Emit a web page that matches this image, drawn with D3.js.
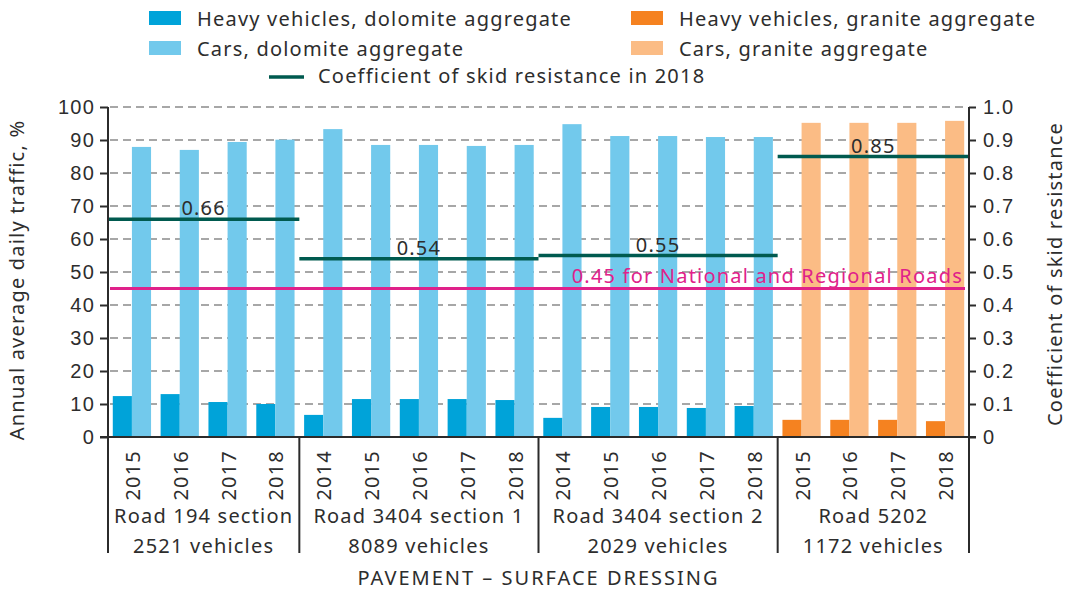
<!DOCTYPE html>
<html>
<head>
<meta charset="utf-8">
<script src="https://cdn.jsdelivr.net/npm/d3@7"></script>
<style>
  body { margin: 0; background: #fff; }
  svg { font-family: 'Noto Sans', sans-serif; letter-spacing: 1.2px; }
  text { fill: #2d2d2d; }
</style>
</head>
<body>
<svg id="chart" width="1069" height="592"></svg>
<script>
// Road sections and their yearly traffic split
const groups = ['Road 194 section', 'Road 3404 section 1', 'Road 3404 section 2', 'Road 5202']
const vehicles = ['2521 vehicles', '8089 vehicles', '2029 vehicles', '1172 vehicles']
const groupYears = [
  ['2015', '2016', '2017', '2018'],
  ['2014', '2015', '2016', '2017', '2018'],
  ['2014', '2015', '2016', '2017', '2018'],
  ['2015', '2016', '2017', '2018']
]
const aggregate = ['dolomite', 'dolomite', 'dolomite', 'granite']
const heavyShare = [12.4, 13.0, 10.6, 10.0, 6.7, 11.5, 11.5, 11.5, 11.2, 5.8, 9.1, 9.1, 8.8, 9.4, 5.2, 5.2, 5.2, 4.8]
const carShare = [87.9, 87.0, 89.4, 90.1, 93.3, 88.5, 88.5, 88.2, 88.5, 94.8, 91.2, 91.2, 90.9, 90.9, 95.2, 95.2, 95.2, 95.8]
const skid2018 = [0.66, 0.54, 0.55, 0.85]
const threshold = 0.45
const leftTicks = [0, 10, 20, 30, 40, 50, 60, 70, 80, 90, 100]
const rightTicks = [0, 0.1, 0.2, 0.3, 0.4, 0.5, 0.6, 0.7, 0.8, 0.9, 1.0]

const colors = {
  heavy: { dolomite: '#00a3d9', granite: '#f58220' },
  cars: { dolomite: '#72c9ec', granite: '#fbbc85' },
  skid: '#005a4f',
  limit: '#e0218a',
  grid: '#8a8a8a',
  axis: '#2b2b2b'
}
const fs = 20

// Flatten into one row per bar pair
const rows = []
groupYears.forEach((ys, g) => {
  ys.forEach(y => rows.push({ key: g + '-' + y, year: y, group: g, agg: aggregate[g] }))
})
rows.forEach((r, i) => { r.heavy = heavyShare[i]; r.cars = carShare[i] })

const svg = d3.select('#chart')
const margin = { top: 107, right: 100, bottom: 155, left: 108 }
const W = 1069, H = 592
const x0 = margin.left, x1 = W - margin.right
const yBottom = H - margin.bottom

const x = d3.scaleBand().domain(rows.map(d => d.key)).range([x0, x1]).padding(0)
const y = d3.scaleLinear().domain([0, 100]).range([yBottom, margin.top])
const y2 = d3.scaleLinear().domain([0, 1]).range([yBottom, margin.top])
const bw = x.bandwidth()

// Dashed grid
svg.append('g')
  .selectAll('line')
  .data(leftTicks.filter(t => t > 0))
  .join('line')
  .attr('x1', x0 + 2).attr('x2', x1 - 1)
  .attr('y1', d => y(d)).attr('y2', d => y(d))
  .attr('stroke', colors.grid)
  .attr('stroke-width', 1.5)
  .attr('stroke-dasharray', '8,5')

// Bars
const bars = svg.append('g')
bars.selectAll('rect.heavy')
  .data(rows)
  .join('rect')
  .attr('class', 'heavy')
  .attr('x', d => x(d.key) + bw * 0.1)
  .attr('width', bw * 0.4)
  .attr('y', d => y(d.heavy))
  .attr('height', d => y(0) - y(d.heavy))
  .attr('fill', d => colors.heavy[d.agg])
bars.selectAll('rect.cars')
  .data(rows)
  .join('rect')
  .attr('class', 'cars')
  .attr('x', d => x(d.key) + bw * 0.5)
  .attr('width', bw * 0.4)
  .attr('y', d => y(d.cars))
  .attr('height', d => y(0) - y(d.cars))
  .attr('fill', d => colors.cars[d.agg])

// Group extents
const groupSpan = groups.map((name, g) => {
  const keys = rows.filter(r => r.group === g).map(r => r.key)
  return { name, g, start: x(keys[0]), end: x(keys[keys.length - 1]) + bw }
})

// Threshold line
svg.append('line')
  .attr('x1', x0 + 2).attr('x2', x1 - 4)
  .attr('y1', y2(threshold)).attr('y2', y2(threshold))
  .attr('stroke', colors.limit)
  .attr('stroke-width', 3)
svg.append('text')
  .attr('x', x1 - 6)
  .attr('y', y2(threshold) - 6)
  .attr('text-anchor', 'end')
  .attr('font-size', fs)
  .style('fill', colors.limit)
  .text(threshold.toFixed(2) + ' for National and Regional Roads')

// Skid resistance per section
svg.append('g')
  .selectAll('line')
  .data(groupSpan)
  .join('line')
  .attr('x1', d => d.start).attr('x2', d => d.end)
  .attr('y1', d => y2(skid2018[d.g])).attr('y2', d => y2(skid2018[d.g]))
  .attr('stroke', colors.skid)
  .attr('stroke-width', 3.5)
svg.append('g')
  .selectAll('text')
  .data(groupSpan)
  .join('text')
  .attr('x', d => (d.start + d.end) / 2)
  .attr('y', d => y2(skid2018[d.g]) - 4)
  .attr('text-anchor', 'middle')
  .attr('font-size', fs)
  .text(d => skid2018[d.g].toFixed(2))

// Axes
const leftAxis = svg.append('g')
  .attr('transform', `translate(${x0},0)`)
  .call(d3.axisLeft(y).tickValues(leftTicks).tickSize(8).tickPadding(5))
const rightAxis = svg.append('g')
  .attr('transform', `translate(${x1},0)`)
  .call(d3.axisRight(y2).tickValues(rightTicks).tickSize(7).tickPadding(7)
    .tickFormat(d => d === 0 ? '0' : d3.format('.1f')(d)))
;[leftAxis, rightAxis].forEach(a => {
  a.select('.domain').remove()
  a.selectAll('line').attr('stroke', colors.axis).attr('stroke-width', 2)
  a.selectAll('text').attr('font-size', fs).style('fill', '#2d2d2d').attr('font-family', null)
})

// Axis lines and section separators
svg.append('line')
  .attr('x1', x0 - 8).attr('x2', x1 + 7)
  .attr('y1', yBottom).attr('y2', yBottom)
  .attr('stroke', colors.axis).attr('stroke-width', 2)
svg.append('line')
  .attr('x1', x0).attr('x2', x0)
  .attr('y1', margin.top).attr('y2', yBottom)
  .attr('stroke', colors.axis).attr('stroke-width', 2)
svg.append('line')
  .attr('x1', x1).attr('x2', x1)
  .attr('y1', margin.top).attr('y2', yBottom)
  .attr('stroke', colors.axis).attr('stroke-width', 2)
const seps = [groupSpan[0].start].concat(groupSpan.map(d => d.end))
svg.append('g')
  .selectAll('line')
  .data(seps)
  .join('line')
  .attr('x1', d => d).attr('x2', d => d)
  .attr('y1', yBottom).attr('y2', yBottom + 116)
  .attr('stroke', colors.axis).attr('stroke-width', 2)

// Year labels
svg.append('g')
  .selectAll('text')
  .data(rows)
  .join('text')
  .attr('transform', d => `translate(${x(d.key) + bw / 2 + 8},${yBottom + 13}) rotate(-90)`)
  .attr('text-anchor', 'end')
  .attr('font-size', fs)
  .text(d => d.year)

// Section names and volumes
svg.append('g')
  .selectAll('text')
  .data(groupSpan)
  .join('text')
  .attr('x', d => (d.start + d.end) / 2)
  .attr('y', yBottom + 86)
  .attr('text-anchor', 'middle')
  .attr('font-size', fs)
  .text(d => d.name)
svg.append('g')
  .selectAll('text')
  .data(groupSpan)
  .join('text')
  .attr('x', d => (d.start + d.end) / 2)
  .attr('y', yBottom + 116)
  .attr('text-anchor', 'middle')
  .attr('font-size', fs)
  .text(d => vehicles[d.g])

svg.append('text')
  .attr('x', (x0 + x1) / 2)
  .attr('y', 585)
  .attr('text-anchor', 'middle')
  .attr('font-size', fs)
  .style('letter-spacing', '2px')
  .text('PAVEMENT – SURFACE DRESSING')

// Axis titles
svg.append('text')
  .attr('transform', `translate(24,${(margin.top + yBottom) / 2 + 8}) rotate(-90)`)
  .attr('text-anchor', 'middle')
  .attr('font-size', fs)
  .text('Annual average daily traffic, %')
svg.append('text')
  .attr('transform', `translate(1062,${(margin.top + yBottom) / 2 + 2}) rotate(-90)`)
  .attr('text-anchor', 'middle')
  .attr('font-size', fs)
  .text('Coefficient of skid resistance')

// Legend
const legendItems = [
  { label: 'Heavy vehicles, dolomite aggregate', color: colors.heavy.dolomite, x: 149, y: 11 },
  { label: 'Cars, dolomite aggregate', color: colors.cars.dolomite, x: 149, y: 41 },
  { label: 'Heavy vehicles, granite aggregate', color: colors.heavy.granite, x: 631, y: 11 },
  { label: 'Cars, granite aggregate', color: colors.cars.granite, x: 631, y: 41 }
]
const legend = svg.append('g')
legend.selectAll('rect')
  .data(legendItems)
  .join('rect')
  .attr('x', d => d.x).attr('y', d => d.y)
  .attr('width', 32).attr('height', 14)
  .attr('fill', d => d.color)
legend.selectAll('text')
  .data(legendItems)
  .join('text')
  .attr('x', d => d.x + 48)
  .attr('y', d => d.y + 15)
  .attr('font-size', fs)
  .text(d => d.label)
legend.append('line')
  .attr('x1', 269).attr('x2', 304)
  .attr('y1', 77).attr('y2', 77)
  .attr('stroke', colors.skid).attr('stroke-width', 3.5)
legend.append('text')
  .attr('x', 318).attr('y', 83)
  .attr('font-size', fs)
  .text('Coefficient of skid resistance in 2018')
</script>
</body>
</html>
